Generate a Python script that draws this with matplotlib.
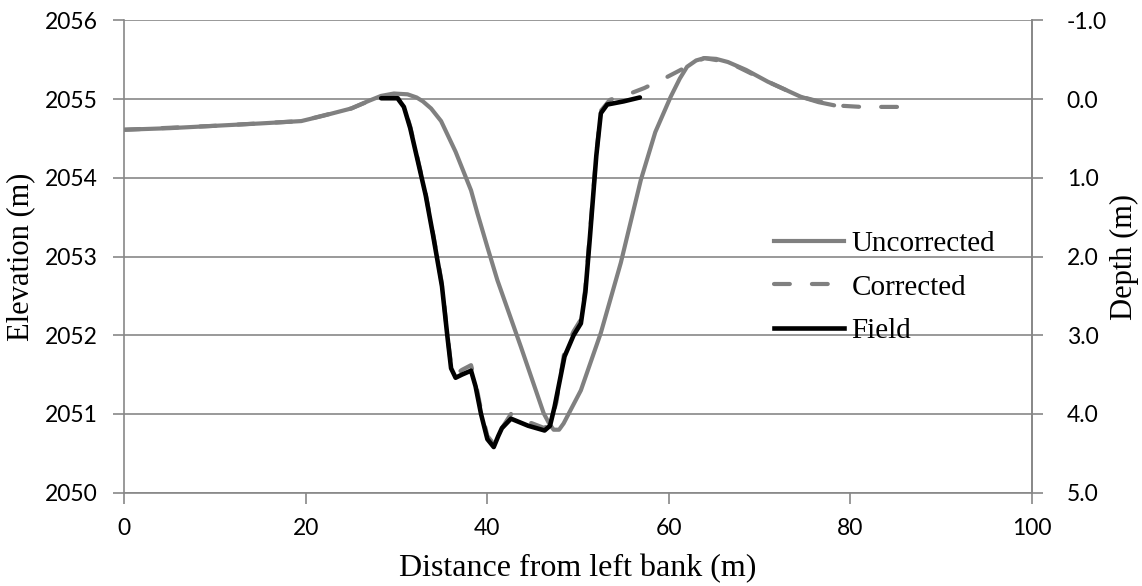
import matplotlib
matplotlib.use("Agg")
import matplotlib.pyplot as plt
from matplotlib.lines import Line2D

# Uncorrected profile (distance m, elevation m)
unc_x = [0, 5, 10, 15, 19.5, 22, 25, 27, 28.3, 29.7, 31.2, 32.2, 32.9, 33.8, 34.9, 36.5,
         38.2, 38.9, 40.0, 41.1, 43.7, 46.2, 46.8, 47.3, 47.9, 48.4, 50.3, 52.5, 54.7, 56.9,
         58.5, 60.2, 61.2, 62.0, 63.0, 63.9, 65.2, 66.5, 68.5, 70.9, 72.8, 74.5, 76.5, 78.2]
unc_y = [2054.61, 2054.63, 2054.66, 2054.69, 2054.72, 2054.79, 2054.88, 2054.98,
         2055.04, 2055.07, 2055.06, 2055.02, 2054.97, 2054.88, 2054.72, 2054.33,
         2053.84, 2053.55, 2053.12, 2052.70, 2051.85, 2051.01, 2050.88, 2050.80, 2050.80,
         2050.88, 2051.30, 2052.03, 2052.92, 2053.97, 2054.58, 2055.03, 2055.26, 2055.41,
         2055.49, 2055.52, 2055.51, 2055.47, 2055.37, 2055.22, 2055.12, 2055.03, 2054.96,
         2054.92]

# Corrected profile
cor_x = [0, 10, 19.5, 25, 28.3, 30.1, 30.8, 31.5, 32.3, 33.2, 34.0, 35.0, 35.6, 36.0,
         36.5, 37.2, 38.2, 38.7, 39.3, 40.0, 40.7, 41.6, 42.6, 44.5, 46.3, 47.0, 47.6,
         48.5, 49.5, 50.3, 50.8, 51.3, 52.0, 52.5, 53.5, 55.5, 57.3, 59.8, 62.8, 63.9,
         66.5, 70.9, 74.5, 78.2, 81.2, 85.5]
cor_y = [2054.61, 2054.66, 2054.72, 2054.88, 2055.04, 2055.02, 2054.92, 2054.65,
         2054.25, 2053.80, 2053.30, 2052.65, 2052.00, 2051.62, 2051.50, 2051.56,
         2051.62, 2051.40, 2051.05, 2050.72, 2050.62, 2050.82, 2051.00, 2050.90,
         2050.82, 2050.90, 2051.15, 2051.80, 2052.05, 2052.20, 2052.60, 2053.30,
         2054.30, 2054.85, 2054.99, 2055.06, 2055.14, 2055.28, 2055.46, 2055.52,
         2055.47, 2055.22, 2055.03, 2054.92, 2054.90, 2054.90]

# Field survey
fld_x = [28.3, 30.1, 30.8, 31.5, 32.3, 33.2, 34.0, 35.0, 35.6, 36.0, 36.5, 37.2,
         38.2, 38.7, 39.3, 40.0, 40.7, 41.2, 41.6, 42.6, 44.5, 46.3, 46.9, 47.4,
         48.5, 49.5, 50.3, 50.8, 51.3, 52.0, 52.5, 53.2, 55.0, 56.8]
fld_y = [2055.01, 2055.01, 2054.90, 2054.63, 2054.23, 2053.78, 2053.28, 2052.62,
         2051.98, 2051.58, 2051.46, 2051.50, 2051.55, 2051.35, 2051.00, 2050.68,
         2050.58, 2050.72, 2050.82, 2050.94, 2050.85, 2050.79, 2050.85, 2051.09,
         2051.73, 2052.00, 2052.15, 2052.55, 2053.25, 2054.28, 2054.82, 2054.93,
         2054.97, 2055.02]

x_ticks = [0, 20, 40, 60, 80, 100]
elev_ticks = [2050, 2051, 2052, 2053, 2054, 2055, 2056]
depth_labels = ["5.0", "4.0", "3.0", "2.0", "1.0", "0.0", "-1.0"]

grid_c = "#878787"
line_gray = "#808080"
tick_font = "Lato"
label_font = "Liberation Serif"
DASH = (3.8, 5.3)

fig = plt.figure(figsize=(11.42, 5.86), dpi=100)
ax = fig.add_axes([124.3 / 1142, 1 - 492.7 / 586, (1032 - 124.3) / 1142, (492.7 - 20.3) / 586])

ax.plot(unc_x, unc_y, color=line_gray, lw=3.0, solid_capstyle="round",
        solid_joinstyle="round", zorder=3)
ax.plot(cor_x, cor_y, color=line_gray, lw=3.0, dashes=DASH, dash_capstyle="round",
        dash_joinstyle="round", zorder=2)
ax.plot(fld_x, fld_y, color="black", lw=3.3, solid_capstyle="round",
        solid_joinstyle="round", zorder=4)

ax.set_xlim(0, 100)
ax.set_ylim(2050, 2056)
ax.set_xticks(x_ticks)
ax.set_yticks(elev_ticks)
ax.yaxis.grid(True, color=grid_c, lw=1.2)
ax.set_axisbelow(True)
ax.spines["top"].set_visible(False)
for s in ["left", "bottom", "right"]:
    ax.spines[s].set_color(grid_c)
    ax.spines[s].set_linewidth(1.2)
ax.tick_params(axis="both", colors=grid_c, length=8, width=1.2, direction="out",
               labelcolor="black", labelsize=16.5)
ax.tick_params(axis="y", pad=11)
ax.tick_params(axis="x", pad=10)
for lab in ax.get_xticklabels() + ax.get_yticklabels():
    lab.set_family(tick_font)

ax2 = ax.twinx()
ax2.set_ylim(2050, 2056)
ax2.set_yticks(elev_ticks)
ax2.set_yticklabels(depth_labels)
for s in ["top", "left", "bottom"]:
    ax2.spines[s].set_visible(False)
ax2.spines["right"].set_color(grid_c)
ax2.spines["right"].set_linewidth(1.2)
ax2.tick_params(axis="y", colors=grid_c, length=8, width=1.2, direction="out",
                labelcolor="black", labelsize=16.5, pad=17)
for lab in ax2.get_yticklabels():
    lab.set_family(tick_font)

ax.set_xlabel("Distance from left bank (m)", family=label_font, fontsize=23, labelpad=11)
ax.set_ylabel("Elevation (m)", family=label_font, fontsize=22, labelpad=7)
ax2.set_ylabel("Depth (m)", family=label_font, fontsize=22, labelpad=2)

handles = [Line2D([], [], color=line_gray, lw=3.0),
           Line2D([], [], color=line_gray, lw=3.0, dashes=DASH, dash_capstyle="round"),
           Line2D([], [], color="black", lw=3.3)]
leg = ax.legend(handles, ["Uncorrected", "Corrected", "Field"], loc="upper left",
                bbox_to_anchor=(0.716, 0.555), frameon=False, handlelength=2.4,
                handletextpad=0.25, labelspacing=0.59, borderpad=0, borderaxespad=0,
                prop={"family": label_font, "size": 21})

fig.savefig("out.png", dpi=100)
